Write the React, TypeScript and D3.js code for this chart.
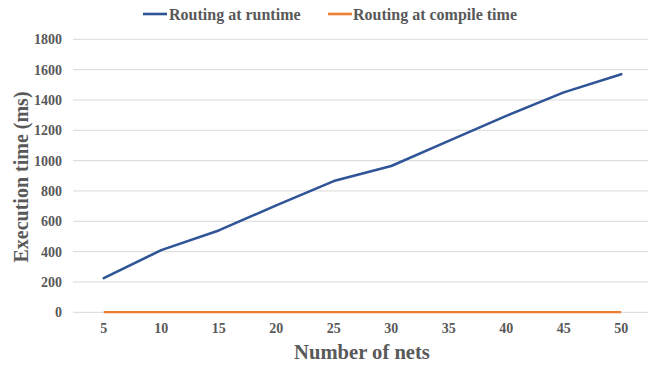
import React from "react";
import * as d3 from "d3";

const categories = [5, 10, 15, 20, 25, 30, 35, 40, 45, 50];
const runtimeValues = [225, 410, 540, 705, 865, 965, 1130, 1295, 1450, 1570];
const compileValues = [1, 1, 1, 1, 1, 1, 1, 1, 1, 1];
const yTicks = [0, 200, 400, 600, 800, 1000, 1200, 1400, 1600, 1800];
const seriesNames = ["Routing at runtime", "Routing at compile time"];

const W = 667;
const H = 367;
const left = 75;
const right = 650;
const top = 39.3;
const bottom = 312.3;
const font = "'Liberation Serif', 'Times New Roman', serif";
const textColor = "#595959";
const blue = "#2F5597";
const orange = "#ED7D31";

export default function App() {
  const x = d3
    .scaleBand<number>()
    .domain(categories)
    .range([left, right])
    .padding(0);
  const cx = (c: number) => (x(c) as number) + x.bandwidth() / 2;
  const y = d3.scaleLinear().domain([0, 1800]).range([bottom, top]);
  const line = d3
    .line<number>()
    .x((_, i) => cx(categories[i]))
    .y((d) => y(d));

  return (
    <svg
      width={W}
      height={H}
      style={{ position: "absolute", left: 0, top: 0, background: "#fff" }}
      fontFamily={font}
    >
      {yTicks.map((t) => (
        <g key={t}>
          <line x1={left - 2} x2={right - 2} y1={y(t)} y2={y(t)} stroke="#D9D9D9" strokeWidth={1} />
          <text
            x={62}
            y={y(t)}
            dy="0.35em"
            textAnchor="end"
            fontSize={14}
            fontWeight="bold"
            fill={textColor}
          >
            {t}
          </text>
        </g>
      ))}
      {categories.map((c) => (
        <text
          key={c}
          x={cx(c)}
          y={328}
          dy="0.35em"
          textAnchor="middle"
          fontSize={14}
          fontWeight="bold"
          fill={textColor}
        >
          {c}
        </text>
      ))}
      <path d={line(compileValues) || ""} fill="none" stroke={orange} strokeWidth={2.2} />
      <path d={line(runtimeValues) || ""} fill="none" stroke={blue} strokeWidth={2.6} strokeLinejoin="round" strokeLinecap="round" />
      <text
        x={362}
        y={352}
        dy="0.35em"
        textAnchor="middle"
        fontSize={20.6}
        fontWeight="bold"
        fill={textColor}
      >
        Number of nets
      </text>
      <text
        transform={`translate(21, 177) rotate(-90)`}
        dy="0.35em"
        textAnchor="middle"
        fontSize={20}
        fontWeight="bold"
        fill={textColor}
      >
        Execution time (ms)
      </text>
      <g>
        <line x1={143} x2={167} y1={14} y2={14} stroke={blue} strokeWidth={2.6} />
        <text x={169} y={14} dy="0.35em" fontSize={16} fontWeight="bold" fill={textColor}>
          {seriesNames[0]}
        </text>
        <line x1={328} x2={352} y1={14} y2={14} stroke={orange} strokeWidth={2.6} />
        <text x={353} y={14} dy="0.35em" fontSize={16} fontWeight="bold" fill={textColor}>
          {seriesNames[1]}
        </text>
      </g>
    </svg>
  );
}
